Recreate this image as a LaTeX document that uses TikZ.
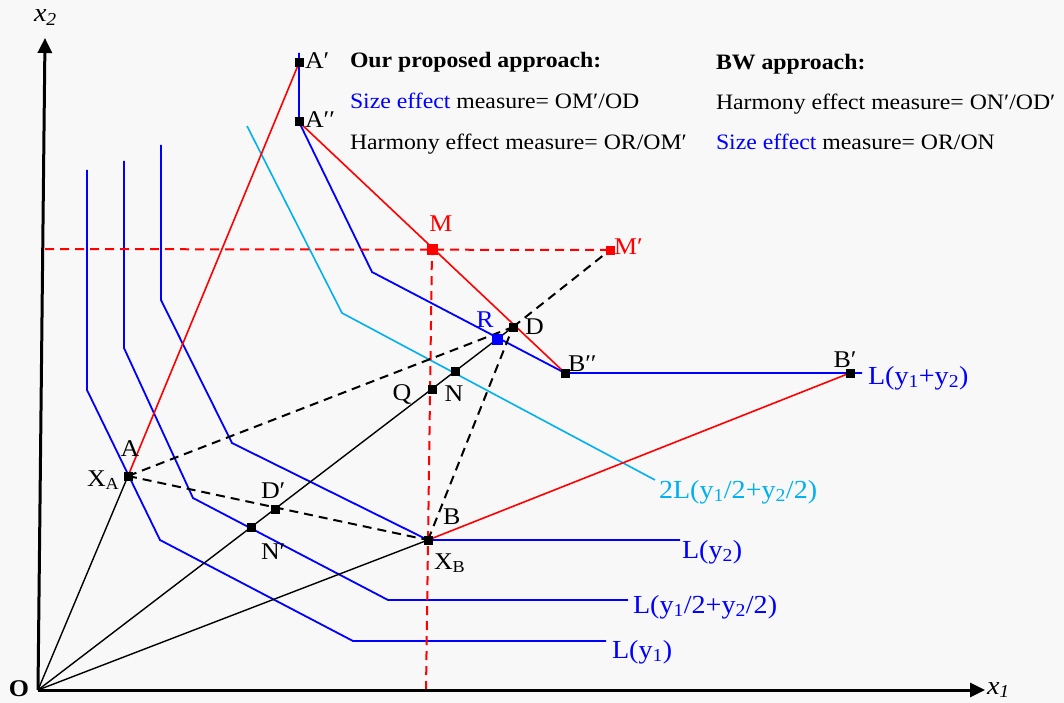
\documentclass[tikz,border=0pt]{standalone}
\usepackage{fontspec}
\setmainfont{Liberation Serif}[FakeStretch=1.08]
\usetikzlibrary{arrows.meta}
\definecolor{bg}{HTML}{F8F8F8}
\definecolor{cyanl}{HTML}{00B0F0}
\begin{document}
\begin{tikzpicture}[x=1pt,y=-1pt,
  every node/.style={inner sep=0pt,outer sep=0pt,font=\fontsize{22}{26}\selectfont},
  lab/.style={anchor=base west},
  labc/.style={anchor=base},
  ptl/.style={font=\fontsize{24}{28}\selectfont},
  isol/.style={font=\fontsize{26}{30}\selectfont},
  sq/.style={fill=black,minimum size=9pt,draw=none},
  isoq/.style={blue,line width=1.8pt,line join=miter},
  cyanline/.style={cyanl,line width=1.6pt},
  redline/.style={red,line width=1.6pt},
  ray/.style={black,line width=1.4pt},
  bdash/.style={black,line width=2pt,dash pattern=on 9pt off 6pt},
  rdash/.style={red,line width=2pt,dash pattern=on 9pt off 6pt},
  axisline/.style={black,line width=3pt,-{Triangle[length=15pt,width=14pt]}}]
\path[fill=bg] (0,0) rectangle (1064,703);
% points
\coordinate (O) at (38,690);
\coordinate (X1end) at (985,690);
\coordinate (X2end) at (45,38);
\coordinate (XA) at (128,476);
\coordinate (XB) at (428,540);
\coordinate (Ap) at (299,63);
\coordinate (App) at (299,122);
\coordinate (M) at (432,249);
\coordinate (Mp) at (610,250);
\coordinate (D) at (513,327);
\coordinate (R) at (497,339);
\coordinate (N) at (455,371);
\coordinate (Q) at (432,389);
\coordinate (Dp) at (275,509);
\coordinate (Np) at (251,527);
\coordinate (Bpp) at (565,373);
\coordinate (Bp) at (850,373);
\coordinate (Hleft) at (45,249);
\coordinate (Vbot) at (426,690);
% isoquant bends
\coordinate (a1) at (87,170);  \coordinate (a2) at (87,390);  \coordinate (a3) at (160,540); \coordinate (a4) at (353,641); \coordinate (a5) at (606,641);
\coordinate (b1) at (124,161); \coordinate (b2) at (124,348); \coordinate (b3) at (193,498); \coordinate (b4) at (388,600); \coordinate (b5) at (628,600);
\coordinate (c1) at (161,145); \coordinate (c2) at (161,300); \coordinate (c3) at (232,443); \coordinate (c5) at (680,540);
\coordinate (d1) at (299,53);  \coordinate (d3) at (372,272); \coordinate (d5) at (862,373);
\coordinate (e1) at (247,126); \coordinate (e2) at (342,313); \coordinate (e3) at (655,480);
% isoquants
\draw[isoq] (a1) -- (a2) -- (a3) -- (a4) -- (a5);
\draw[isoq] (b1) -- (b2) -- (b3) -- (b4) -- (b5);
\draw[isoq] (c1) -- (c2) -- (c3) -- (XB) -- (c5);
\draw[isoq] (d1) -- (App) -- (d3) -- (Bpp) -- (d5);
\draw[cyanline] (e1) -- (e2) -- (e3);
% red lines
\draw[redline] (XA) -- (Ap);
\draw[redline] (App) -- (Bpp);
\draw[redline] (XB) -- (Bp);
\draw[rdash] (Hleft) -- (Mp);
\draw[rdash] (Vbot) -- (M);
% black rays
\draw[ray] (O) -- (XA);
\draw[ray] (O) -- (D);
\draw[ray] (O) -- (XB);
\draw[bdash] (XA) -- (XB);
\draw[bdash] (XA) -- (D);
\draw[bdash] (XB) -- (D);
\draw[bdash] (D) -- (Mp);
% axes
\draw[axisline] (O) -- (X1end);
\draw[axisline] (O) -- (X2end);
% squares
\node[sq] (sAp) at (Ap) {};
\node[sq] (sApp) at (App) {};
\node[sq] (sXA) at (XA) {};
\node[sq] (sXB) at (XB) {};
\node[sq] (sDp) at (Dp) {};
\node[sq] (sNp) at (Np) {};
\node[sq] (sQ) at (Q) {};
\node[sq] (sN) at (N) {};
\node[sq] (sD) at (D) {};
\node[sq] (sBpp) at (Bpp) {};
\node[sq] (sBp) at (Bp) {};
\node[sq,fill=red,minimum size=11pt] (sM) at (M) {};
\node[sq,fill=red,minimum size=9pt] (sMp) at (Mp) {};
\node[sq,fill=blue,minimum size=11pt] (sR) at (R) {};
% labels
\node[lab,ptl] (tAp) at (305,69) {A′};
\node[lab,ptl] (tApp) at (305,128) {A′′};
\node[labc,ptl,red] (tM) at (441,232) {M};
\node[lab,ptl,red] (tMp) at (614,254) {M′};
\node[labc,ptl,blue] (tR) at (485,327) {R};
\node[lab,ptl] (tD) at (525,334) {D};
\node[lab,ptl] (tBpp) at (568,371) {B′′};
\node[labc,ptl] (tBp) at (845,367) {B′};
\node[labc,ptl] (tQ) at (402,400) {Q};
\node[labc,ptl] (tN) at (454,401) {N};
\node[labc,ptl] (tA) at (130,456) {A};
\node[lab,ptl] (tXA) at (87,486) {X\textsubscript{A}};
\node[lab,ptl] (tDp) at (261,498) {D′};
\node[lab,ptl] (tNp) at (261,559) {N′};
\node[lab,ptl] (tB) at (443,524) {B};
\node[lab,ptl] (tXB) at (434,569) {X\textsubscript{B}};
\node[lab,isol,blue] (tL12) at (868,384) {L(y\textsubscript{1}+y\textsubscript{2})};
\node[lab,isol,cyanl] (tL2h) at (659,498) {2L(y\textsubscript{1}/2+y\textsubscript{2}/2)};
\node[lab,isol,blue] (tLy2) at (682,558) {L(y\textsubscript{2})};
\node[lab,isol,blue] (tLh) at (633,613) {L(y\textsubscript{1}/2+y\textsubscript{2}/2)};
\node[lab,isol,blue] (tLy1) at (612,658) {L(y\textsubscript{1})};
\node[lab,font=\fontsize{24}{28}\selectfont\bfseries] (tO) at (9,696) {O};
\node[lab,isol] (tx1) at (987,694) {\textit{x\textsubscript{1}}};
\node[lab,isol] (tx2) at (34,22) {\textit{x\textsubscript{2}}};
% legend text
\node[lab,font=\fontsize{22}{26}\selectfont\bfseries] (h1) at (350,68) {Our proposed approach:};
\node[lab] (h1a) at (350,109) {\textcolor{blue}{Size effect} measure= OM′/OD};
\node[lab] (h1b) at (350,150) {Harmony effect measure= OR/OM′};
\node[lab,font=\fontsize{22}{26}\selectfont\bfseries] (h2) at (716,70) {BW approach:};
\node[lab] (h2a) at (716,110) {Harmony effect measure= ON′/OD′};
\node[lab] (h2b) at (716,150) {\textcolor{blue}{Size effect} measure= OR/ON};
\end{tikzpicture}
\end{document}
